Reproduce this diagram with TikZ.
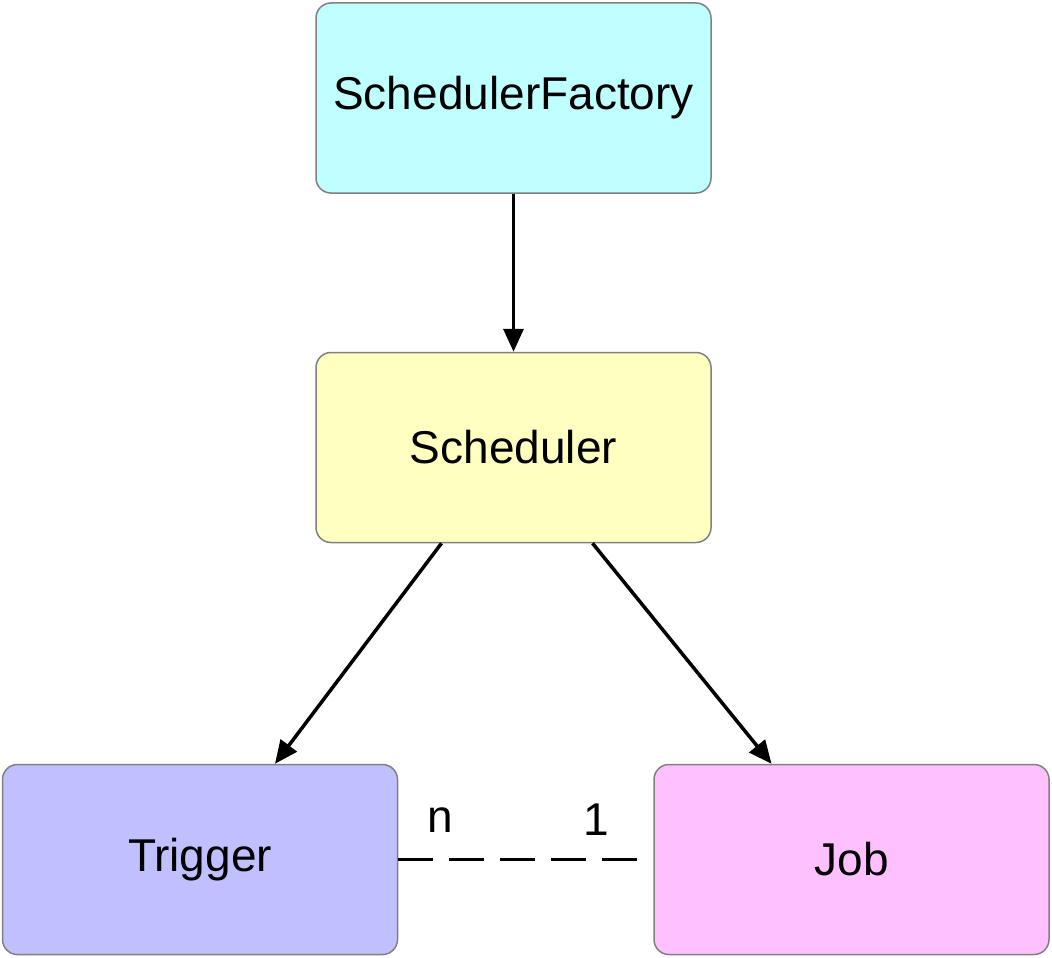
\documentclass[tikz,border=0pt]{standalone}
\usepackage{fontspec}
\setmainfont{Liberation Sans}
\usetikzlibrary{arrows.meta}
\begin{document}
\begin{tikzpicture}[x=1pt,y=-1pt,
  box/.style={draw=black!50, line width=1.5pt, rounded corners=15pt, minimum width=395pt, minimum height=190pt, inner sep=0pt, font=\fontsize{46}{50}\selectfont},
  conn/.style={line width=3.5pt, -{Triangle[length=23pt,width=20pt]}},
  lbl/.style={font=\fontsize{46}{50}\selectfont, inner sep=0pt}]
\useasboundingbox (0,0) rectangle (1052,958);
\definecolor{cyanfill}{HTML}{C0FFFF}
\definecolor{yellowfill}{HTML}{FFFFC0}
\definecolor{bluefill}{HTML}{C0C0FF}
\definecolor{pinkfill}{HTML}{FFC0FF}
\node[box, fill=cyanfill] (sf) at (513.5,98) {\raisebox{-3pt}{SchedulerFactory}};
\node[box, fill=yellowfill] (sch) at (513.5,447.5) {Scheduler};
\node[box, fill=bluefill] (trig) at (200,859.5) {\raisebox{-3pt}{Trigger}};
\node[box, fill=pinkfill] (job) at (851.5,859.5) {Job};
\draw[conn] (sf.south) -- (sch.north);
\draw[conn] ([xshift=-72pt]sch.south) -- ([xshift=75pt]trig.north);
\draw[conn] ([xshift=79pt]sch.south) -- ([xshift=-80pt]job.north);
\coordinate (dend) at ([xshift=-14pt]job.west);
\draw[line width=3.5pt, dash pattern=on 35pt off 16pt] (trig.east) -- (dend);
\node[lbl] (ln) at (440,820) {n};
\node[lbl] (l1) at (596,820) {1};
\end{tikzpicture}
\end{document}
